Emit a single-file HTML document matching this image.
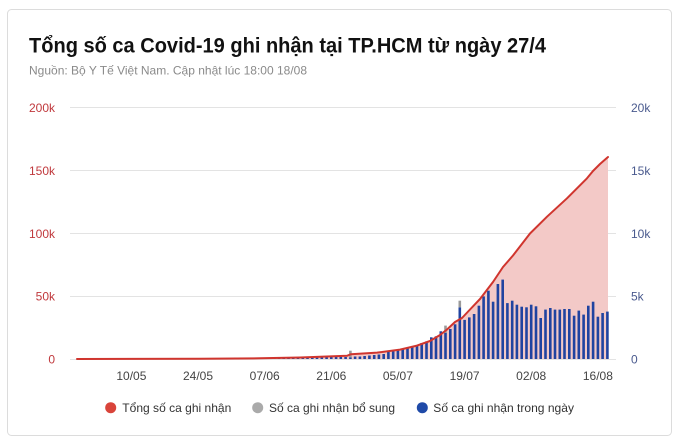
<!DOCTYPE html>
<html><head><meta charset="utf-8"><style>
html,body{margin:0;padding:0;background:#fff;}
svg{display:block;}
text{font-family:"Liberation Sans",Arial,sans-serif;}
</style></head><body>
<svg width="680" height="444" viewBox="0 0 680 444" xmlns="http://www.w3.org/2000/svg">
<rect x="7.5" y="9.5" width="664" height="426" rx="4" fill="#fff" stroke="#dcdcdc"/>
<text x="29" y="52.5" font-size="21" font-weight="bold" fill="#111" textLength="517" lengthAdjust="spacingAndGlyphs">Tổng số ca Covid-19 ghi nhận tại TP.HCM từ ngày 27/4</text>
<text x="29" y="74.5" font-size="12" fill="#8a8a8a" textLength="278" lengthAdjust="spacingAndGlyphs">Nguồn: Bộ Y Tế Việt Nam. Cập nhật lúc 18:00 18/08</text>
<g stroke="#e3e3e3" stroke-width="1">
<line x1="70" y1="107.5" x2="616" y2="107.5"/>
<line x1="70" y1="170.5" x2="616" y2="170.5"/>
<line x1="70" y1="233.5" x2="616" y2="233.5"/>
<line x1="70" y1="296.5" x2="616" y2="296.5"/>
<line x1="70" y1="359.5" x2="616" y2="359.5"/>
</g>
<g font-size="12" fill="#c0393d" text-anchor="end">
<text x="55" y="112">200k</text>
<text x="55" y="175">150k</text>
<text x="55" y="238">100k</text>
<text x="55" y="300.5">50k</text>
<text x="55" y="363.5">0</text>
</g>
<g font-size="12" fill="#4a5a8e">
<text x="631" y="112">20k</text>
<text x="631" y="175">15k</text>
<text x="631" y="238">10k</text>
<text x="631" y="300.5">5k</text>
<text x="631" y="363.5">0</text>
</g>
<g font-size="12" fill="#444" text-anchor="middle">
<text x="131.4" y="380">10/05</text>
<text x="198" y="380">24/05</text>
<text x="264.7" y="380">07/06</text>
<text x="331.3" y="380">21/06</text>
<text x="397.9" y="380">05/07</text>
<text x="464.6" y="380">19/07</text>
<text x="531.2" y="380">02/08</text>
<text x="597.9" y="380">16/08</text>
</g>
<polygon fill="#f3c9c7" points="77,359 200,358.8 260,358.3 300,357.5 347,355.8 351,354.2 377,352.6 400,349.6 417,345.6 430,341 440,335 447,329.5 455,322 462,318 470,309.5 480,299 493,282 503,267 513,255.5 530,233.5 547,216.7 567,198.3 587,178.3 593,171 600,164 608,157 608,359"/>
<g fill="#2043a0">
<rect x="258.6" y="357.5" width="2.6" height="1.5"/>
<rect x="263.4" y="357.5" width="2.6" height="1.5"/>
<rect x="268.1" y="357.5" width="2.6" height="1.5"/>
<rect x="272.9" y="357.5" width="2.6" height="1.5"/>
<rect x="277.7" y="357.5" width="2.6" height="1.5"/>
<rect x="282.4" y="357.5" width="2.6" height="1.5"/>
<rect x="287.2" y="357.5" width="2.6" height="1.5"/>
<rect x="291.9" y="357.5" width="2.6" height="1.5"/>
<rect x="296.7" y="357.5" width="2.6" height="1.5"/>
<rect x="301.5" y="357.5" width="2.6" height="1.5"/>
<rect x="306.2" y="357.5" width="2.6" height="1.5"/>
<rect x="311.0" y="357.5" width="2.6" height="1.5"/>
<rect x="315.7" y="357.5" width="2.6" height="1.5"/>
<rect x="320.5" y="357.5" width="2.6" height="1.5"/>
<rect x="325.3" y="357.5" width="2.6" height="1.5"/>
<rect x="330.0" y="357" width="2.6" height="2"/>
<rect x="334.8" y="357" width="2.6" height="2"/>
<rect x="339.5" y="357" width="2.6" height="2"/>
<rect x="344.3" y="357" width="2.6" height="2"/>
<rect x="349.1" y="357.5" width="2.6" height="1.5"/>
<rect x="353.8" y="356.5" width="2.6" height="2.5"/>
<rect x="358.6" y="356.5" width="2.6" height="2.5"/>
<rect x="363.3" y="356" width="2.6" height="3"/>
<rect x="368.1" y="355.5" width="2.6" height="3.5"/>
<rect x="372.9" y="355" width="2.6" height="4"/>
<rect x="377.6" y="354.5" width="2.6" height="4.5"/>
<rect x="382.4" y="354.0" width="2.6" height="5.0"/>
<rect x="387.1" y="350.7" width="2.6" height="8.3"/>
<rect x="391.9" y="350.7" width="2.6" height="8.3"/>
<rect x="396.6" y="349.7" width="2.6" height="9.3"/>
<rect x="401.4" y="349.0" width="2.6" height="10.0"/>
<rect x="406.2" y="348.3" width="2.6" height="10.7"/>
<rect x="410.9" y="347.3" width="2.6" height="11.7"/>
<rect x="415.7" y="345.0" width="2.6" height="14.0"/>
<rect x="420.4" y="343.0" width="2.6" height="16.0"/>
<rect x="425.2" y="341.4" width="2.6" height="17.6"/>
<rect x="430.0" y="337.3" width="2.6" height="21.7"/>
<rect x="434.7" y="336.3" width="2.6" height="22.7"/>
<rect x="439.5" y="331.3" width="2.6" height="27.7"/>
<rect x="444.2" y="333.0" width="2.6" height="26.0"/>
<rect x="449.0" y="329.0" width="2.6" height="30.0"/>
<rect x="453.8" y="324.3" width="2.6" height="34.7"/>
<rect x="458.5" y="307.3" width="2.6" height="51.7"/>
<rect x="463.3" y="319.9" width="2.6" height="39.1"/>
<rect x="468.0" y="317.4" width="2.6" height="41.6"/>
<rect x="472.8" y="314.0" width="2.6" height="45.0"/>
<rect x="477.6" y="305.7" width="2.6" height="53.3"/>
<rect x="482.3" y="296.4" width="2.6" height="62.6"/>
<rect x="487.1" y="290.7" width="2.6" height="68.3"/>
<rect x="491.8" y="301.7" width="2.6" height="57.3"/>
<rect x="496.6" y="284.0" width="2.6" height="75.0"/>
<rect x="501.4" y="279.6" width="2.6" height="79.4"/>
<rect x="506.1" y="303.1" width="2.6" height="55.9"/>
<rect x="510.9" y="300.7" width="2.6" height="58.3"/>
<rect x="515.6" y="304.7" width="2.6" height="54.3"/>
<rect x="520.4" y="306.7" width="2.6" height="52.3"/>
<rect x="525.2" y="307.3" width="2.6" height="51.7"/>
<rect x="529.9" y="304.7" width="2.6" height="54.3"/>
<rect x="534.7" y="306.3" width="2.6" height="52.7"/>
<rect x="539.4" y="318.0" width="2.6" height="41.0"/>
<rect x="544.2" y="309.6" width="2.6" height="49.4"/>
<rect x="549.0" y="308.0" width="2.6" height="51.0"/>
<rect x="553.7" y="309.6" width="2.6" height="49.4"/>
<rect x="558.5" y="309.6" width="2.6" height="49.4"/>
<rect x="563.2" y="309.0" width="2.6" height="50.0"/>
<rect x="568.0" y="309.0" width="2.6" height="50.0"/>
<rect x="572.8" y="315.7" width="2.6" height="43.3"/>
<rect x="577.5" y="310.6" width="2.6" height="48.4"/>
<rect x="582.3" y="314.6" width="2.6" height="44.4"/>
<rect x="587.0" y="305.7" width="2.6" height="53.3"/>
<rect x="591.8" y="301.7" width="2.6" height="57.3"/>
<rect x="596.6" y="316.7" width="2.6" height="42.3"/>
<rect x="601.3" y="313.0" width="2.6" height="46.0"/>
<rect x="606.1" y="311.6" width="2.6" height="47.4"/>
</g>
<g fill="#9a9a9a">
<rect x="349.1" y="350.7" width="2.6" height="6.8"/>
<rect x="444.2" y="325.6" width="2.6" height="7.4"/>
<rect x="458.5" y="300.7" width="2.6" height="6.6"/>
</g>
<polyline fill="none" stroke="#d0352e" stroke-width="2" stroke-linejoin="round" stroke-linecap="round" points="77,359 200,358.8 260,358.3 300,357.5 347,355.8 351,354.2 377,352.6 400,349.6 417,345.6 430,341 440,335 447,329.5 455,322 462,318 470,309.5 480,299 493,282 503,267 513,255.5 530,233.5 547,216.7 567,198.3 587,178.3 593,171 600,164 608,157"/>
<circle cx="110.7" cy="407.7" r="5.5" fill="#d9443a"/>
<circle cx="257.7" cy="407.7" r="5.5" fill="#aaaaaa"/>
<circle cx="422.3" cy="407.7" r="5.5" fill="#1f4aa8"/>
<g font-size="12" fill="#333">
<text x="122.3" y="412" textLength="109" lengthAdjust="spacingAndGlyphs">Tổng số ca ghi nhận</text>
<text x="269" y="412" textLength="126" lengthAdjust="spacingAndGlyphs">Số ca ghi nhận bổ sung</text>
<text x="433.3" y="412" textLength="140.7" lengthAdjust="spacingAndGlyphs">Số ca ghi nhận trong ngày</text>
</g>
</svg>
</body></html>
